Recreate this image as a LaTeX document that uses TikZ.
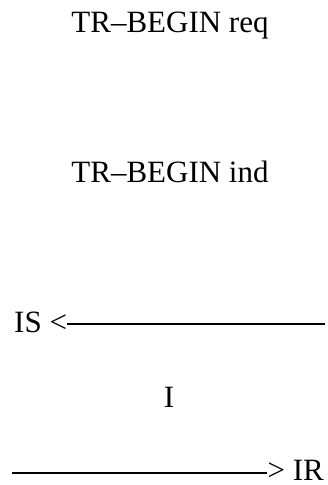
\documentclass[tikz,border=0pt]{standalone}
\usepackage{fontspec}
\setmainfont{Liberation Serif}
\begin{document}
\begin{tikzpicture}[x=1pt,y=-1pt,
  lbl/.style={inner sep=0pt,font=\fontsize{31}{37}\selectfont},
  rulewire/.style={line width=1.2pt}]
\useasboundingbox (0,0) rectangle (327,485);
% primitive names
\node[lbl,anchor=base] (req) at (170,32) {TR–BEGIN req};
\node[lbl,anchor=base] (ind) at (170,182) {TR–BEGIN ind};
% initiator side, arrow towards IS
\node[lbl,anchor=base west] (is) at (14,332) {IS <};
\coordinate (isend) at (325,324);
\draw[rulewire] ([yshift=8pt]is.base east) -- (isend);
\node[lbl,anchor=base] (i) at (169,407) {I};
% arrow towards IR
\node[lbl,anchor=base east] (ir) at (324,480) {> IR};
\coordinate (irstart) at (12,473);
\draw[rulewire] (irstart) -- ([yshift=7pt]ir.base west);
\end{tikzpicture}
\end{document}
